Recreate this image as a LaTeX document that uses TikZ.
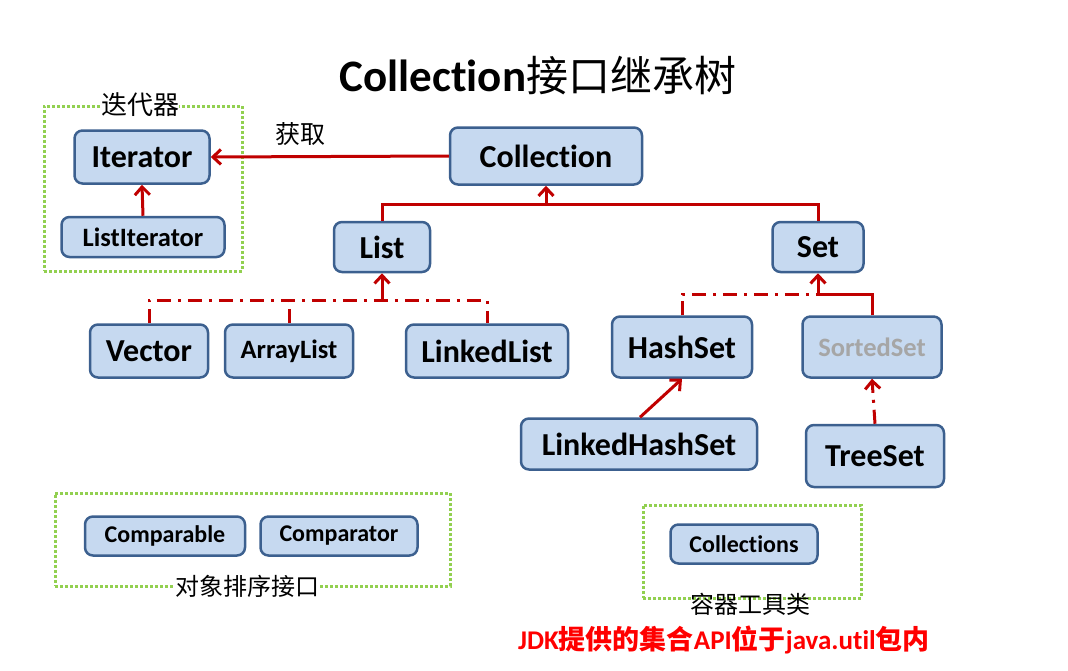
\documentclass[tikz,border=0pt]{standalone}
\usepackage{fontspec}
\setmainfont[RawFeature={-liga;-clig;-calt;-dlig}]{Carlito}
\newfontfamily\cjk{Noto Sans CJK SC}
\usepackage{xcolor}
\usetikzlibrary{arrows.meta,positioning}
\definecolor{boxfill}{RGB}{198,217,240}
\definecolor{boxline}{RGB}{60,96,143}
\definecolor{linkred}{RGB}{192,0,0}
\definecolor{grpgreen}{RGB}{146,208,80}
\newcommand{\fs}[1]{\fontsize{#1}{#1}\selectfont}

\begin{document}
\begin{tikzpicture}[
    x=1pt, y=-1pt,
    >={Straight Barb[length=8pt,width=15pt]},
    cls/.style={draw=boxline, fill=boxfill, line width=2.5pt, rounded corners=8pt, inner sep=0pt, align=center, font=\bfseries\fs{32}},
    small/.style={cls, font=\bfseries\fs{26.5}},
    tiny/.style={cls, font=\bfseries\fs{24}},
    grp/.style={draw=grpgreen, line width=3pt, dotted, inner sep=0pt},
    link/.style={draw=linkred, line width=3pt},
    dd/.style={link, dash pattern=on 14pt off 7pt on 3pt off 7pt},
    lbl/.style={font=\cjk\fs{24}, inner sep=0pt}
]
\useasboundingbox (0,0) rectangle (1068,670);

\node[inner sep=0pt] (title) at (538,76) {\bfseries\fs{45}Collect\kern0pt ion{\cjk\mdseries\fs{42}接口继承树}};

\node[grp, minimum width=198pt, minimum height=165pt] (itgrp) at (143,188.5) {};
\node[grp, minimum width=395pt, minimum height=93pt] (cmpgrp) at (252.5,539.5) {};
\node[grp, minimum width=218pt, minimum height=93pt] (utilgrp) at (752,551.5) {};

\node[lbl, font=\cjk\fs{26}, fill=white] (itlbl) at (140,105) {迭代器};
\node[lbl, fill=white] (cmplbl) at (247,586) {对象排序接口};
\node[lbl] (utillbl) at (750,604) {容器工具类};

\node[cls, minimum width=135pt, minimum height=53pt] (iterator) at (142,157) {Iterator};
\node[small, minimum width=163pt, minimum height=40pt] (listiter) at (143,237) {ListIterator};

\node[cls, minimum width=192pt, minimum height=57pt] (collection) at (546,156) {Collect\kern0pt ion};
\node[lbl, font=\cjk\fs{25}] (get) at (300,134) {获取};

\node[cls, minimum width=96pt, minimum height=50pt] (list) at (382,247) {List};
\node[cls, minimum width=91pt, minimum height=50pt] (set) at (818,247) {Set};

\node[cls, minimum width=118pt, minimum height=53pt] (vector) at (149,351) {Vector};
\node[small, minimum width=128pt, minimum height=53pt] (arraylist) at (289,351) {ArrayList};
\node[cls, minimum width=162pt, minimum height=53pt] (linkedlist) at (487,351) {LinkedList};

\node[cls, minimum width=140pt, minimum height=61pt] (hashset) at (682,347) {HashSet};
\node[small, text=black!35, minimum width=139pt, minimum height=61pt] (sortedset) at (872,347) {SortedSet};
\node[cls, minimum width=236pt, minimum height=51pt] (linkedhashset) at (639,444) {LinkedHashSet};
\node[cls, minimum width=138pt, minimum height=62pt] (treeset) at (875,456) {TreeSet};

\node[tiny, minimum width=160pt, minimum height=39pt] (comparable) at (165,536) {Comparable};
\node[tiny, minimum width=157pt, minimum height=39pt] (comparator) at (339,536) {Comparator};
\node[tiny, minimum width=147pt, minimum height=39pt] (collections) at (744,544) {Collect\kern0pt ions};

\node[font=\bfseries\fs{27}, text=red, inner sep=0pt] (note) at (724,640) {JDK{\cjk 提供的集合}API{\cjk 位于}java.util{\cjk 包内}};

\coordinate (cj) at (546,204);
\coordinate (lj) at (382,300);
\coordinate (sj) at (818,294);

\draw[link, ->] (collection.west) -- (iterator.east);
\draw[link, ->] (listiter.north) -- (iterator.south);
\draw[link] (list.north) |- (cj) -| (set.north);
\draw[link, ->] (cj) -- (collection.south);
\draw[dd] (vector.north) |- (linkedlist.north |- lj) -- (linkedlist.north);
\draw[dd] (arraylist.north) -- (arraylist.north |- lj);
\draw[link, ->] (lj) -- (list.south);
\draw[dd] (hashset.north) |- (sj);
\draw[link] (sortedset.north) |- (sj);
\draw[link, ->] (sj) -- (set.south);
\draw[link, ->] ([xshift=1pt]linkedhashset.north) -- (hashset.south);
\draw[dd, ->] (treeset.north) -- (sortedset.south);
\end{tikzpicture}
\end{document}
